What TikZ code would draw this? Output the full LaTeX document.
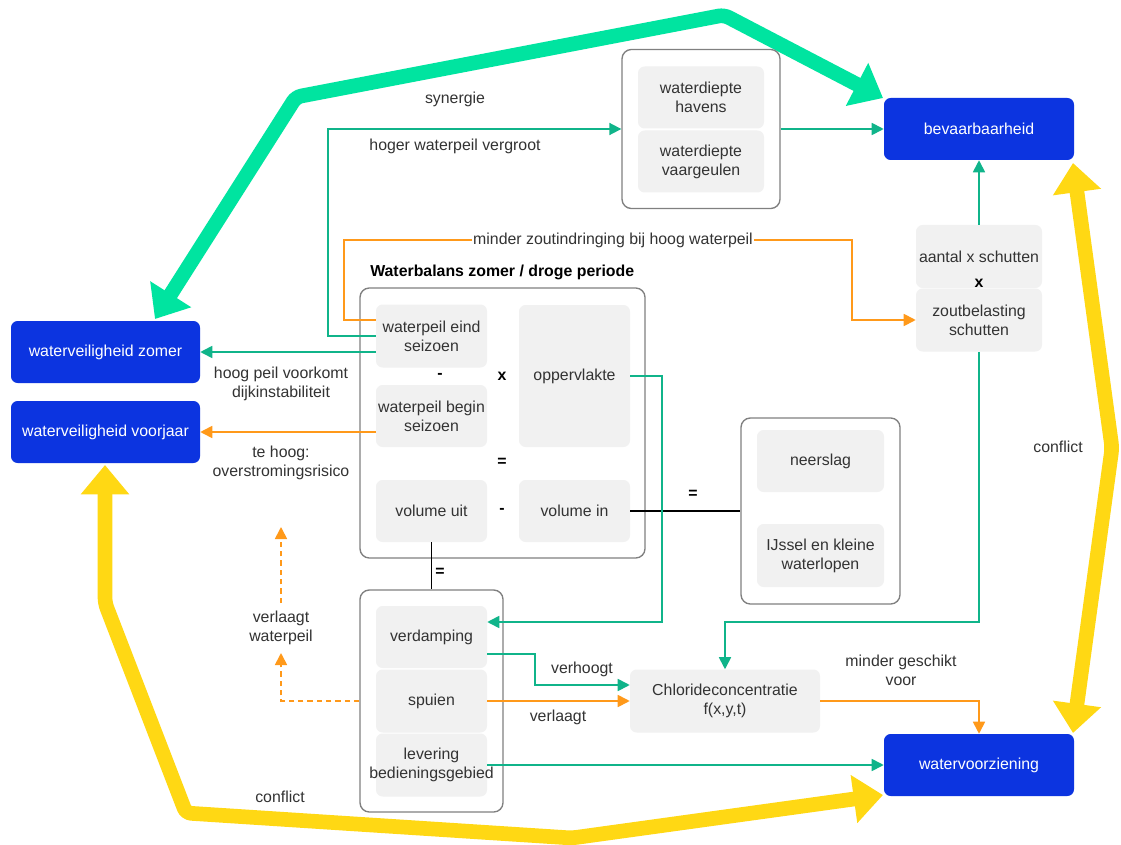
\documentclass[tikz,border=0pt]{standalone}
\usepackage{fontspec}
\setmainfont{Liberation Sans}
\usetikzlibrary{arrows.meta,calc}
\definecolor{myblue}{RGB}{12,52,224}
\definecolor{lgray}{RGB}{241,241,241}
\definecolor{cgray}{RGB}{128,128,128}
\definecolor{tgreen}{RGB}{16,180,138}
\definecolor{tor}{RGB}{255,153,26}
\definecolor{kgreen}{RGB}{0,228,160}
\definecolor{kyel}{RGB}{255,216,20}
\definecolor{txt}{RGB}{51,51,51}
\begin{document}
\begin{tikzpicture}[x=0.75pt,y=-0.75pt,
  font=\fontsize{11.9}{14.4}\selectfont,
  sz/.style 2 args={minimum width=#1*0.75pt, minimum height=#2*0.75pt},
  bx/.style={rounded corners=5pt, inner sep=0pt, align=center, text=txt},
  gbx/.style={bx, fill=lgray},
  bbx/.style={bx, fill=myblue, text=white},
  cont/.style={bx, draw=cgray, line width=1pt, rounded corners=7pt},
  lbl/.style={text=txt, align=center, inner sep=1pt},
  opr/.style={font=\fontsize{11.9}{12}\selectfont\bfseries, text=black, inner sep=0pt},
  garr/.style={draw=tgreen, line width=1.3pt, -{Triangle[length=9pt,width=9pt]}},
  oarr/.style={draw=tor, line width=1.3pt, -{Triangle[length=9pt,width=9pt]}},
  odash/.style={oarr, dashed, dash pattern=on 4pt off 3pt},
  bline/.style={draw=black, line width=1.3pt},
  thick arrow/.style={line width=11pt, rounded corners=4pt,
     {Triangle[length=22pt,width=35pt]}-{Triangle[length=22pt,width=35pt]}}
]
\useasboundingbox (0,0) rectangle (1121,845);
\fill[white] (0,0) rectangle (1121,845);

% thick relations
\draw[thick arrow, draw=kgreen] (155,319) -- (296,97) -- (724,15) -- (883,98);
\draw[thick arrow, draw=kyel] (1073,163) -- (1112,448) -- (1073,733);
\draw[thick arrow, draw=kyel] (105,465) -- (105,603) -- (186,813) -- (572,838) -- (883,795);

% main blue nodes
\node[bbx, sz={190}{62}] (bev) at (979,129) {bevaarbaarheid};
\node[bbx, sz={190}{62}] (wvz) at (979,765) {watervoorziening};
\node[bbx, sz={189}{62}] (wzo) at (105.5,352) {waterveiligheid zomer};
\node[bbx, sz={189}{62}] (wvo) at (105.5,432) {waterveiligheid voorjaar};

% waterdiepte
\node[cont, sz={158}{159}] (diep) at (701,129) {};
\node[gbx, sz={126}{62}] (hav) at (701,97.5) {waterdiepte\\havens};
\node[gbx, sz={126}{62}] (vaar) at (701,161.5) {waterdiepte\\vaargeulen};

% schutten
\node[gbx, sz={126}{63}] (aant) at (979,256.5) {aantal x schutten};
\node[gbx, sz={126}{63}] (zout) at (979,320) {zoutbelasting\\schutten};
\node[opr] (xs) at (979,283) {x};

% waterbalans
\node[cont, sz={285}{270}] (wb) at (502.5,423) {};
\node[anchor=west, font=\fontsize{11.9}{12}\selectfont\bfseries, inner sep=0pt] (wbt) at (370,272) {Waterbalans zomer / droge periode};
\node[gbx, sz={111}{63}] (eind) at (431.5,336) {waterpeil eind\\seizoen};
\node[gbx, sz={111}{62}] (begin) at (431.5,416) {waterpeil begin\\seizoen};
\node[gbx, sz={111}{142}] (opp) at (574.5,376) {oppervlakte};
\node[gbx, sz={111}{62}] (vuit) at (431.5,511) {volume uit};
\node[gbx, sz={111}{62}] (vin) at (574.5,511) {volume in};
\node[opr] (o1) at (440,376) {-};
\node[opr] (o2) at (502,376) {x};
\node[opr] (o3) at (502,462) {=};
\node[opr] (o4) at (502,511) {-};

% bronnen
\node[cont, sz={159}{186}] (bron) at (820.5,511) {};
\node[gbx, sz={127}{62}] (neer) at (820.5,461) {neerslag};
\node[gbx, sz={127}{63}] (ijs) at (820.5,555.5) {IJssel en kleine\\waterlopen};

% afvoer
\node[cont, sz={143}{222}] (afv) at (431.5,701) {};
\node[gbx, sz={111}{62}] (verd) at (431.5,637) {verdamping};
\node[gbx, sz={111}{63}] (spui) at (431.5,701) {spuien};
\node[gbx, sz={111}{63}] (lev) at (431.5,765) {};
\node[lbl, inner sep=0pt] (levt) at (lev) {levering\\bedieningsgebied};

\node[gbx, sz={190}{63}] (cl) at (725,701) {Chlorideconcentratie\\f(x,y,t)};

% black equations
\draw[bline] (vuit.south) -- (afv.north);
\draw[bline] (vin.east) -- (bron.west);
\node[opr] (o5) at (693,494) {=};
\node[opr] (o6) at (440,572) {=};

% coordinates
\coordinate (j1) at (725,622);
\coordinate (d1) at (281,653);
\coordinate (d2) at (281,603);
\coordinate (d3) at (281,527);
\coordinate (r1) at (852,240);

% thin connectors
\draw[garr] (eind.west) -- ++(-48,0) |- (diep.west);
\draw[oarr] ($(eind.west)+(0,-16)$) -- ++(-32,0) |- (r1) |- (zout.west);
\draw[garr] (diep.east) -- (bev.west);
\draw[garr] (aant.north) -- (bev.south);
\draw[garr] (eind.west |- wzo.east) -- (wzo.east);
\draw[oarr] (begin.west |- wvo.east) -- (wvo.east);
\draw[garr] (opp.east) -- ++(32,0) |- ($(verd.east)+(0,-15)$);
\draw[garr] (zout.south) |- (j1) -- (cl.north);
\draw[garr] ($(verd.east)+(0,17)$) -- ++(48,0) |- ($(cl.west)+(0,-16)$);
\draw[oarr] (spui.east) -- (cl.west);
\draw[oarr] (cl.east) -| (wvz.north);
\draw[garr] (lev.east) -- (wvz.west);
\draw[odash] (afv.west |- spui.west) -| (d1);
\draw[odash] (d2) -- (d3);

% labels
\node[lbl] (lsyn) at (455,99) {synergie};
\node[lbl] (lhog) at (455,146) {hoger waterpeil vergroot};
\node[lbl, fill=white] (lmin) at (613,240) {minder zoutindringing bij hoog waterpeil};
\node[lbl] (ldijk) at (281,384) {hoog peil voorkomt\\dijkinstabiliteit};
\node[lbl] (lover) at (281,463) {te hoog:\\overstromingsrisico};
\node[lbl] (lvw) at (281,628) {verlaagt\\waterpeil};
\node[lbl] (lverh) at (582,669) {verhoogt};
\node[lbl] (lverl) at (558,717) {verlaagt};
\node[lbl] (lgesch) at (901,670) {minder geschikt\\voor};
\node[lbl] (lcon1) at (280,797) {conflict};
\node[lbl] (lcon2) at (1058,447) {conflict};
\end{tikzpicture}
\end{document}
